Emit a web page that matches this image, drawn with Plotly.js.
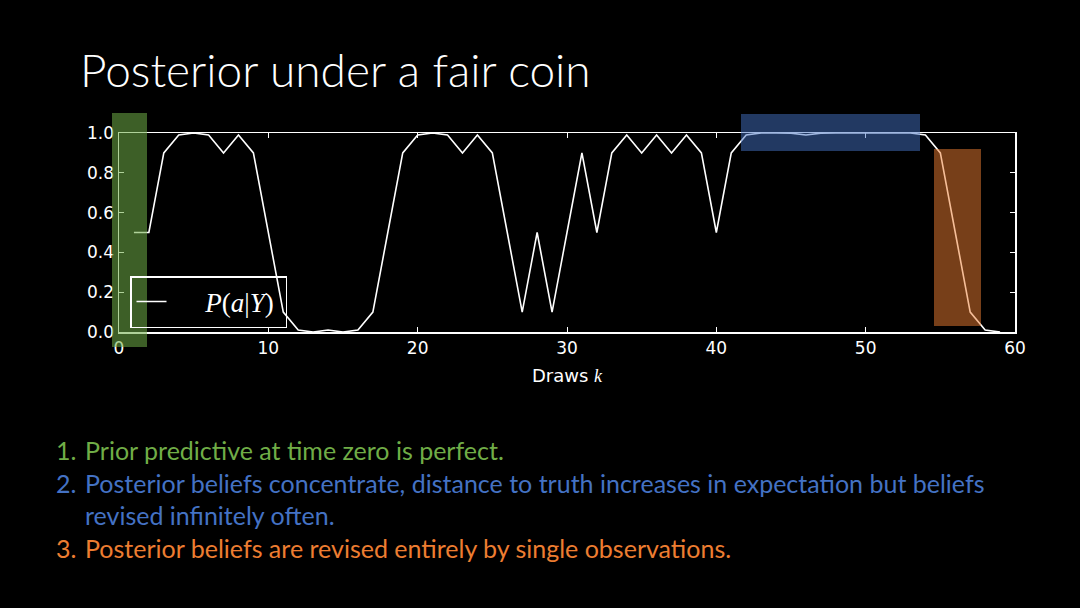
<!DOCTYPE html>
<html>
<head>
<meta charset="utf-8">
<script src="https://cdn.plot.ly/plotly-3.0.1.min.js"></script>
<style>
html,body{margin:0;padding:0;background:#000;}
#chart{width:1080px;height:608px;}
</style>
</head>
<body>
<div id="chart"></div>
<script>
// Data
const draws = [1,2,3,4,5,6,7,8,9,10,11,12,13,14,15,16,17,18,19,20,21,22,23,24,25,26,27,28,29,30,31,32,33,34,35,36,37,38,39,40,41,42,43,44,45,46,47,48,49,50,51,52,53,54,55,56,57,58,59];
const posterior = [0.5,0.5,0.9,0.99,1.0,0.99,0.9,0.99,0.9,0.5,0.1,0.01,0.0,0.01,0.0,0.01,0.1,0.5,0.9,0.99,1.0,0.99,0.9,0.99,0.9,0.5,0.1,0.5,0.1,0.5,0.9,0.5,0.9,0.99,0.9,0.99,0.9,0.99,0.9,0.5,0.9,0.99,1.0,1.0,0.999,0.99,0.999,1.0,1.0,1.0,1.0,1.0,1.0,0.99,0.9,0.5,0.1,0.01,0.0];
const xTicks = [0,10,20,30,40,50,60];
const yTicks = [0.0,0.2,0.4,0.6,0.8,1.0];
const seriesName = '&nbsp;&nbsp;&nbsp;&nbsp;&nbsp;<i>P</i>(<i>a</i>|<i>Y</i>)&nbsp;';
const titleText = 'Posterior under a fair coin';
const xTitle = 'Draws <span style="font-family:\'Liberation Serif\',serif;font-style:italic">k</span>';
const points = [
  {num: '1.', text: 'Prior predictive at time zero is perfect.', color: '#70ad47'},
  {num: '2.', text: 'Posterior beliefs concentrate, distance to truth increases in expectation but beliefs', color: '#4472c4'},
  {num: '',   text: 'revised infinitely often.', color: '#4472c4'},
  {num: '3.', text: 'Posterior beliefs are revised entirely by single observations.', color: '#ed7d31'}
];

const trace = {
  x: draws, y: posterior, type: 'scatter', mode: 'lines',
  name: seriesName, line: {color: '#ffffff', width: 1.6},
  showlegend: true
};

const lineYs = [450, 483, 515, 548];
const annotations = [];
points.forEach((p, i) => {
  if (p.num) annotations.push({
    xref: 'paper', yref: 'paper', x: (54 - 119) / 896, y: (332 - lineYs[i]) / 199,
    xanchor: 'left', yanchor: 'middle', showarrow: false, text: p.num,
    font: {family: 'Lato, sans-serif', size: 25, color: p.color}
  });
  annotations.push({
    xref: 'paper', yref: 'paper', x: (83 - 119) / 896, y: (332 - lineYs[i]) / 199,
    xanchor: 'left', yanchor: 'middle', showarrow: false, text: p.text,
    font: {family: 'Lato, sans-serif', size: 25, color: p.color}
  });
});

const layout = {
  width: 1080, height: 608,
  paper_bgcolor: '#000', plot_bgcolor: '#000',
  margin: {l: 119, r: 65, t: 133, b: 276},
  title: {
    text: titleText, xref: 'container', yref: 'container',
    x: 80 / 1080, xanchor: 'left', y: 1 - 71 / 608, yanchor: 'middle',
    font: {family: 'Lato, sans-serif', size: 46, color: '#ffffff', weight: 300}
  },
  xaxis: {
    range: [0, 60], tickvals: xTicks, ticktext: xTicks.map(String),
    showgrid: false, zeroline: false,
    showline: true, mirror: 'ticks', linecolor: '#ffffff', linewidth: 1.5,
    ticks: 'inside', ticklen: 5, tickcolor: '#ffffff', tickwidth: 1,
    tickfont: {family: 'DejaVu Sans, sans-serif', size: 17, color: '#ffffff'},
    title: {text: xTitle, standoff: 12, font: {family: 'DejaVu Sans, sans-serif', size: 18, color: '#ffffff'}}
  },
  yaxis: {
    range: [0, 1], tickvals: yTicks, ticktext: yTicks.map(v => v.toFixed(1)),
    showgrid: false, zeroline: false,
    showline: true, mirror: 'ticks', linecolor: '#ffffff', linewidth: 1.5,
    ticks: 'inside', ticklen: 5, tickcolor: '#ffffff', tickwidth: 1,
    tickfont: {family: 'DejaVu Sans, sans-serif', size: 17, color: '#ffffff'}
  },
  legend: {
    x: (130 - 119) / 896, y: (332 - 276) / 199, xanchor: 'left', yanchor: 'top',
    bgcolor: 'rgba(0,0,0,0)', bordercolor: '#ffffff', borderwidth: 1.5,
    font: {family: 'Liberation Serif, serif', size: 27, color: '#ffffff'},
    itemwidth: 30
  },
  shapes: [
    {type: 'rect', xref: 'paper', yref: 'paper', layer: 'above',
     x0: (112 - 119) / 896, x1: (147 - 119) / 896, y0: (332 - 347) / 199, y1: (332 - 113) / 199,
     fillcolor: 'rgba(112,173,71,0.55)', line: {width: 0}},
    {type: 'rect', xref: 'paper', yref: 'paper', layer: 'above',
     x0: (741 - 119) / 896, x1: (920 - 119) / 896, y0: (332 - 151) / 199, y1: (332 - 114) / 199,
     fillcolor: 'rgba(68,114,196,0.5)', line: {width: 0}},
    {type: 'rect', xref: 'paper', yref: 'paper', layer: 'above',
     x0: (934 - 119) / 896, x1: (981 - 119) / 896, y0: (332 - 326) / 199, y1: (332 - 149) / 199,
     fillcolor: 'rgba(237,125,49,0.5)', line: {width: 0}}
  ],
  annotations: annotations,
  showlegend: true
};

Plotly.newPlot('chart', [trace], layout, {displayModeBar: false, staticPlot: true});
</script>
</body>
</html>
